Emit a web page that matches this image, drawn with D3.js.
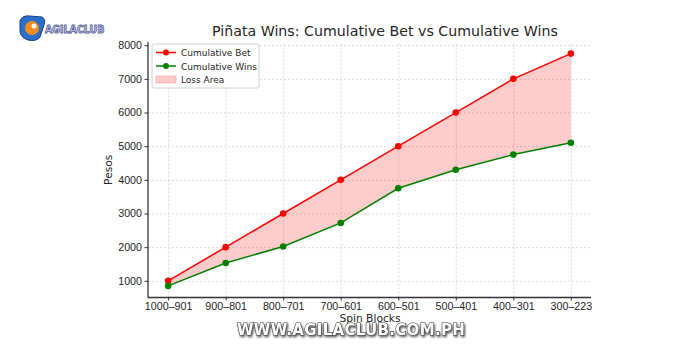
<!DOCTYPE html>
<html>
<head>
	<meta charset="UTF-8">
	<style>
		body { margin: 0; background: #fff; }
		svg { display: block; font-family: "DejaVu Sans", sans-serif; }
		.grid line { stroke: #cfcfcf; stroke-dasharray: 2,2; stroke-width: 0.8; }
		.grid path { display: none; }
		.axis path, .axis line { stroke: #333; }
		.axis text { fill: #262626; font-size: 10.7px; }
	</style>
</head>
<body>
<script src="https://cdn.jsdelivr.net/npm/d3@7"></script>
<script>

var blocks = ["1000–901", "900–801", "800–701", "700–601", "600–501", "500–401", "400–301", "300–223"];
var cumulativeBet = [1000, 2000, 3000, 4000, 5000, 6000, 7000, 7750];
var cumulativeWins = [850, 1530, 2020, 2720, 3750, 4300, 4750, 5100];
var yTicks = [1000, 2000, 3000, 4000, 5000, 6000, 7000, 8000];

var svg = d3.select("body").append("svg")
	.attr("width", 700)
	.attr("height", 350);

var m = {left: 148, right: 591, top: 42, bottom: 297.5};

var x = d3.scaleLinear().domain([-0.35, blocks.length - 1 + 0.35]).range([m.left, m.right]);
var y = d3.scaleLinear().domain([505, 8095]).range([m.bottom, m.top]);

// grid
svg.append("g")
		.attr("class", "grid")
		.attr("transform", "translate(0," + m.bottom + ")")
	.call(d3.axisBottom(x).tickValues(d3.range(blocks.length)).tickSize(-(m.bottom - m.top)).tickFormat(""));
svg.append("g")
		.attr("class", "grid")
		.attr("transform", "translate(" + m.left + ",0)")
	.call(d3.axisLeft(y).tickValues(yTicks).tickSize(-(m.right - m.left)).tickFormat(""));

// loss area
var rows = blocks.map(function(b, i){ return {i: i, bet: cumulativeBet[i], wins: cumulativeWins[i]}; });
svg.append("path")
	.datum(rows)
	.attr("fill", "#ff0000")
	.attr("fill-opacity", 0.2)
	.attr("d", d3.area()
		.x(function(d){ return x(d.i); })
		.y0(function(d){ return y(d.wins); })
		.y1(function(d){ return y(d.bet); }));

var series = [
	{name: "Cumulative Bet", values: cumulativeBet, color: "#ff0000"},
	{name: "Cumulative Wins", values: cumulativeWins, color: "#008000"}
];

var line = d3.line()
	.x(function(d, i){ return x(i); })
	.y(function(d){ return y(d); });

series.forEach(function(s){
	svg.append("path")
		.attr("d", line(s.values))
		.attr("fill", "none")
		.attr("stroke", s.color)
		.attr("stroke-width", 1.5);
	svg.append("g").selectAll("circle")
		.data(s.values)
		.enter().append("circle")
			.attr("cx", function(d, i){ return x(i); })
			.attr("cy", function(d){ return y(d); })
			.attr("r", 3.3)
			.attr("fill", s.color);
});

// axes
var xAxis = svg.append("g")
		.attr("class", "axis")
		.attr("transform", "translate(0," + m.bottom + ")")
	.call(d3.axisBottom(x).tickValues(d3.range(blocks.length)).tickSize(3).tickPadding(2)
		.tickFormat(function(i){ return blocks[i]; }));
xAxis.select(".domain").attr("d", "M" + m.left + ",0H" + m.right).attr("stroke-width", 1.3);

var yAxis = svg.append("g")
		.attr("class", "axis")
		.attr("transform", "translate(" + m.left + ",0)")
	.call(d3.axisLeft(y).tickValues(yTicks).tickSize(3.5).tickPadding(2.5).tickFormat(d3.format("d")));
yAxis.select(".domain").attr("d", "M0," + m.top + "V" + m.bottom).attr("stroke-width", 1.3);

// labels
svg.append("text")
	.attr("x", 385)
	.attr("y", 36)
	.attr("text-anchor", "middle")
	.attr("font-size", 14.2)
	.attr("fill", "#262626")
	.text("Piñata Wins: Cumulative Bet vs Cumulative Wins");

svg.append("text")
	.attr("x", 370)
	.attr("y", 321.5)
	.attr("text-anchor", "middle")
	.attr("font-size", 10.7)
	.attr("fill", "#262626")
	.text("Spin Blocks");

svg.append("text")
	.attr("transform", "translate(112," + (m.top + m.bottom) / 2 + ") rotate(-90)")
	.attr("text-anchor", "middle")
	.attr("font-size", 10.7)
	.attr("fill", "#262626")
	.text("Pesos");

// legend
var legend = svg.append("g").attr("transform", "translate(152,44)");
legend.append("rect")
	.attr("width", 107).attr("height", 44)
	.attr("rx", 2)
	.attr("fill", "#fff").attr("fill-opacity", 0.85)
	.attr("stroke", "#d0d0d0");
series.forEach(function(s, i){
	var g = legend.append("g").attr("transform", "translate(0," + (8.5 + i * 13.5) + ")");
	g.append("line").attr("x1", 4).attr("x2", 24).attr("stroke", s.color).attr("stroke-width", 1.5);
	g.append("circle").attr("cx", 14).attr("r", 3).attr("fill", s.color);
	g.append("text").attr("x", 29).attr("y", 3.5).attr("font-size", 9).attr("fill", "#262626").text(s.name);
});
var ga = legend.append("g").attr("transform", "translate(0,35.5)");
ga.append("rect").attr("x", 4).attr("y", -3.5).attr("width", 20).attr("height", 7)
	.attr("fill", "#ff0000").attr("fill-opacity", 0.2).attr("stroke", "#ff0000").attr("stroke-opacity", 0.2);
ga.append("text").attr("x", 29).attr("y", 3.5).attr("font-size", 9).attr("fill", "#262626").text("Loss Area");

// logo
var logo = svg.append("g").attr("transform", "translate(18,15)");
logo.append("path")
	.attr("d", "M2,6 Q4,0 12,1 L24,2 Q28,4 26,10 L22,22 Q18,27 10,25 Q1,22 2,14 Z")
	.attr("fill", "#2a6fc9").attr("stroke", "#1b3f8a").attr("stroke-width", 1);
logo.append("circle").attr("cx", 14).attr("cy", 13).attr("r", 7).attr("fill", "#f28c1b");
logo.append("circle").attr("cx", 16).attr("cy", 11).attr("r", 2.5).attr("fill", "#fff");
logo.append("text")
	.attr("x", 27).attr("y", 17.5)
	.attr("font-family", "DejaVu Sans Condensed")
	.attr("font-weight", "bold")
	.attr("font-size", 10.5)
	.attr("fill", "#c9cbe6")
	.attr("stroke", "#5a5f9a").attr("stroke-width", 0.8)
	.text("AGILACLUB");

// watermark
var defs = svg.append("defs");
var f = defs.append("filter").attr("id", "shadow").attr("x", "-10%").attr("y", "-40%").attr("width", "120%").attr("height", "180%");
f.append("feDropShadow").attr("dx", 1).attr("dy", 1.5).attr("stdDeviation", 1.2).attr("flood-color", "#000").attr("flood-opacity", 0.7);
svg.append("text")
	.attr("x", 351)
	.attr("y", 334.5)
	.attr("text-anchor", "middle")
	.attr("font-family", "DejaVu Sans")
	.attr("font-weight", "bold")
	.attr("font-size", 15)
	.attr("letter-spacing", 0.3)
	.attr("fill", "#fff")
	.attr("stroke", "#444")
	.attr("stroke-width", 1.2)
	.attr("paint-order", "stroke")
	.attr("filter", "url(#shadow)")
	.text("WWW.AGILACLUB.COM.PH");

</script>
</body>
</html>
